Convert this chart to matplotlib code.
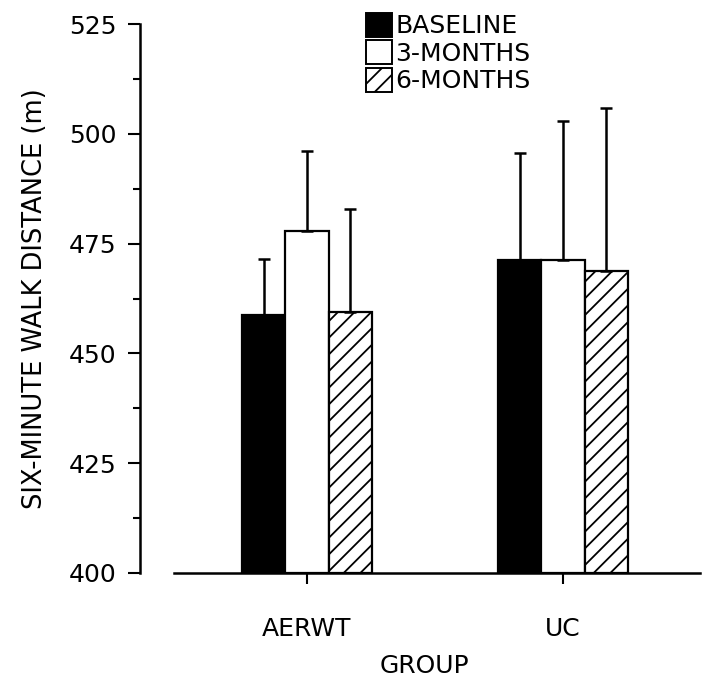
import matplotlib
matplotlib.use("Agg")
import matplotlib.pyplot as plt
import numpy as np
from matplotlib.patches import Patch

groups = ["AERWT", "UC"]
series = ["BASELINE", "3-MONTHS", "6-MONTHS"]
means = {
    "BASELINE": [458.7, 471.3],
    "3-MONTHS": [477.9, 471.2],
    "6-MONTHS": [459.5, 468.8],
}
upper = {
    "BASELINE": [471.5, 495.6],
    "3-MONTHS": [496.1, 502.9],
    "6-MONTHS": [482.9, 505.9],
}
face = {"BASELINE": "black", "3-MONTHS": "white", "6-MONTHS": "white"}
hatch = {"BASELINE": None, "3-MONTHS": None, "6-MONTHS": "//"}

plt.rcParams["font.family"] = "DejaVu Sans"
plt.rcParams["hatch.linewidth"] = 1.3

W, H = 713, 689
fig = plt.figure(figsize=(W / 100, H / 100), dpi=100)
ax = fig.add_axes([174 / W, (H - 573) / H, (700 - 174) / W, (573 - 24) / H])

x = np.arange(len(groups))
width = 0.168
for i, s in enumerate(series):
    m = np.array(means[s])
    err = np.array(upper[s]) - m
    ax.bar(x + (i - 1) * width, m - 400, width, bottom=400, color=face[s],
           edgecolor="black", linewidth=1.6, hatch=hatch[s],
           yerr=[np.zeros_like(err), err], capsize=4,
           error_kw=dict(elinewidth=1.8, capthick=1.8, ecolor="black"))

ax.set_xlim(-(307 - 174) / 256, (700 - 307) / 256)
ax.set_ylim(400, 525)
ax.set_yticks(np.arange(400, 526, 25))
ax.set_yticks(np.arange(412.5, 525, 25), minor=True)
ax.set_xticks(x)
ax.set_xticklabels(groups)

for sp in ["top", "right"]:
    ax.spines[sp].set_visible(False)
ax.spines["left"].set_position(("axes", -34 / 526))
ax.spines["left"].set_linewidth(1.8)
ax.spines["bottom"].set_linewidth(1.8)

ax.tick_params(axis="y", which="major", length=9, width=1.5, labelsize=18, pad=8)
ax.tick_params(axis="y", which="minor", length=5, width=1.5)
ax.tick_params(axis="x", length=8, width=1.5, labelsize=18, pad=24)

ax.set_ylabel("SIX-MINUTE WALK DISTANCE (m)", fontsize=18.5)
ax.yaxis.set_label_coords(-0.24, 0.5)
ax.set_xlabel("GROUP", fontsize=18)
ax.xaxis.set_label_coords(0.476, -0.147)

handles = [Patch(facecolor=face[s], edgecolor="black", linewidth=1.4, hatch=hatch[s]) for s in series]
ax.legend(handles, series, loc="upper left", bbox_to_anchor=((353 - 174) / 526, 1.043),
          frameon=False, fontsize=18, handlelength=1.05, handleheight=1.1,
          handletextpad=0.15, labelspacing=0.08, borderpad=0)

fig.savefig("out.png", dpi=100)
